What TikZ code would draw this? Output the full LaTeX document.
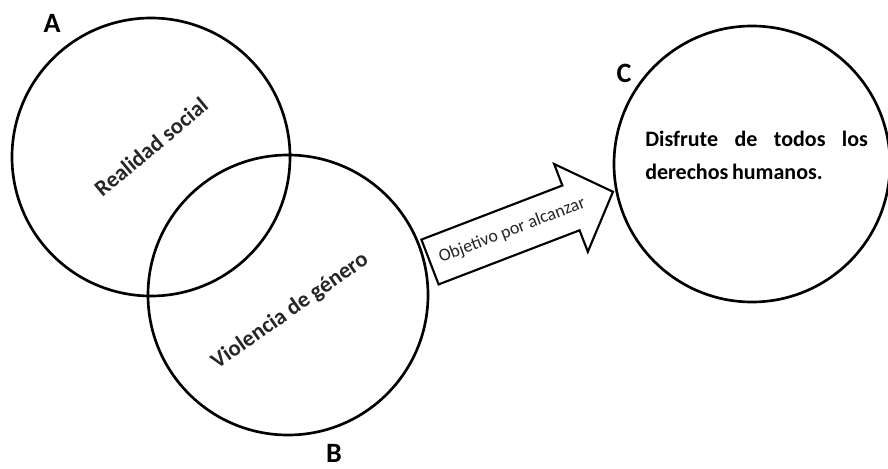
\documentclass[tikz,border=0pt]{standalone}
\usepackage{fontspec}
\setmainfont{Carlito}
\begin{document}
\begin{tikzpicture}[x=0.75pt,y=0.75pt,
  ring/.style={circle,draw=black,line width=2pt,inner sep=0pt,minimum size=#1},
  letter/.style={font=\fontsize{21}{23}\selectfont\bfseries,inner sep=0pt},
  ringtext/.style={font=\fontsize{17}{19}\selectfont\bfseries,text=black!85,inner sep=0pt},
  blockarrow/.style={draw=black,line width=1.6pt,line join=miter,fill=white}]
\useasboundingbox (0,0) rectangle (888,468);
% circles
\node[ring=208.5pt] (A) at (151,311) {};
\node[ring=210pt] (B) at (288,173) {};
\node[ring=207pt] (C) at (752,304) {};
% letters
\node[letter] (la) at (52,445) {A};
\node[letter] (lb) at (334,15) {B};
\node[letter] (lc) at (624,395) {C};
% circle texts
\node[ringtext,rotate=40] (ta) at (151,321) {Realidad social};
\node[ringtext,rotate=35] (tb) at (290,157) {Violencia de género};
\node[anchor=base west,inner sep=0pt,font=\fontsize{16.5}{24.75}\selectfont\bfseries] (tc) at (645,321)
  {\parbox[t]{167pt}{Disfrute de todos los\linebreak derechos\,humanos.}};
% block arrow
\begin{scope}[shift={(430,206)},rotate=21]
  \coordinate (t1) at (0,24);
  \coordinate (s1) at (151,24);
  \coordinate (h1) at (151,47);
  \coordinate (tip) at (196,0);
  \coordinate (h2) at (151,-47);
  \coordinate (s2) at (151,-24);
  \coordinate (t2) at (0,-24);
  \draw[blockarrow] (t1) -- (s1) -- (h1) -- (tip) -- (h2) -- (s2) -- (t2) -- cycle;
  \node[rotate=21,font=\fontsize{13.5}{15}\selectfont,text=black!85,inner sep=0pt] (obj) at (88,0) {Objetivo por alcanzar};
\end{scope}
\end{tikzpicture}
\end{document}
